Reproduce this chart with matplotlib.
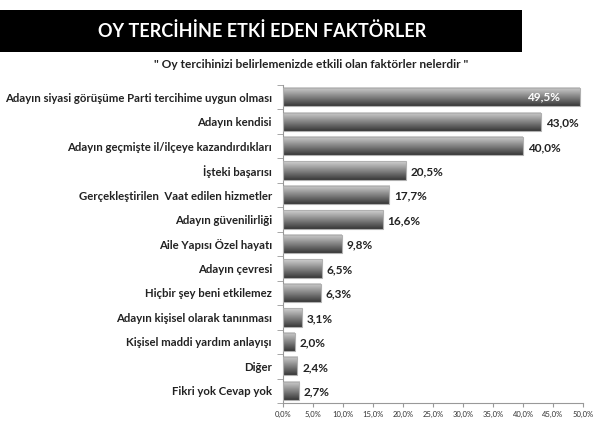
import numpy as np
import matplotlib.pyplot as plt
from matplotlib.patches import Rectangle

# data (top to bottom)
categories = [
    "Adayın siyasi görüşüme Parti tercihime uygun olması",
    "Adayın kendisi",
    "Adayın geçmişte il/ilçeye kazandırdıkları",
    "İşteki başarısı",
    "Gerçekleştirilen  Vaat edilen hizmetler",
    "Adayın güvenilirliği",
    "Aile Yapısı Özel hayatı",
    "Adayın çevresi",
    "Hiçbir şey beni etkilemez",
    "Adayın kişisel olarak tanınması",
    "Kişisel maddi yardım anlayışı",
    "Diğer",
    "Fikri yok Cevap yok",
]
values = [49.5, 43.0, 40.0, 20.5, 17.7, 16.6, 9.8, 6.5, 6.3, 3.1, 2.0, 2.4, 2.7]
xticks = np.arange(0, 50.1, 5)

plt.rcParams['font.family'] = ['Lato', 'DejaVu Sans']

fig = plt.figure(figsize=(6, 4.24), dpi=100)

# title banner
fig.patches.append(Rectangle((0, 1 - 52 / 424), 522 / 600, 42 / 424,
                             transform=fig.transFigure, facecolor='black',
                             edgecolor='none', zorder=0))
fig.text(262 / 600, 1 - 31 / 424, "OY TERCİHİNE ETKİ EDEN FAKTÖRLER",
         color='white', fontsize=13, ha='center', va='center', fontweight='bold')
fig.text(311 / 600, 1 - 65 / 424,
         "\" Oy tercihinizi belirlemenizde etkili olan faktörler nelerdir \"",
         fontsize=8.6, ha='center', va='center', fontweight='bold', color='#222222')

ax = fig.add_axes([283 / 600, 1 - 403 / 424, 300 / 600, 318 / 424])

n = len(categories)
ypos = np.arange(n)
h = 0.75
grad = np.linspace(0.82, 0.22, 64).reshape(-1, 1)

for y, v in zip(ypos, values):
    ax.imshow(grad, cmap='gray', vmin=0, vmax=1, aspect='auto',
              extent=(0, v, y + h / 2, y - h / 2), zorder=2)
    ax.add_patch(Rectangle((0, y - h / 2), v, h, facecolor='none',
                           edgecolor='#b0b0b0', linewidth=0.8, zorder=3))

for i, (y, v) in enumerate(zip(ypos, values)):
    lbl = f"{v:.1f}".replace('.', ',') + "%"
    if i == 0:
        ax.text(v - 6, y, lbl, color='white', fontsize=8.5, fontweight='bold',
                ha='center', va='center', zorder=4)
    else:
        ax.text(v + 0.8, y + 0.05, lbl, color='#222222', fontsize=8.5,
                fontweight='bold', ha='left', va='center', zorder=4)

ax.set_xlim(0, 50)
ax.set_ylim(n - 0.5, -0.5)
ax.set_xticks(xticks)
ax.set_xticklabels([f"{t:.1f}".replace('.', ',') + "%" for t in xticks],
                   fontsize=5.5, color='#333333')
ax.set_yticks(ypos)
ax.set_yticklabels(categories, fontsize=8.2, fontweight='bold', color='#222222')
ax.set_yticks(np.arange(-0.5, n, 1), minor=True)
ax.tick_params(axis='y', which='major', length=0, pad=8)
ax.tick_params(axis='y', which='minor', length=4, color='#999999')
ax.tick_params(axis='x', length=3, color='#999999', pad=3)
for s in ['top', 'right']:
    ax.spines[s].set_visible(False)
for s in ['left', 'bottom']:
    ax.spines[s].set_color('#999999')
    ax.spines[s].set_linewidth(0.8)

fig.savefig("out.png", dpi=100)
